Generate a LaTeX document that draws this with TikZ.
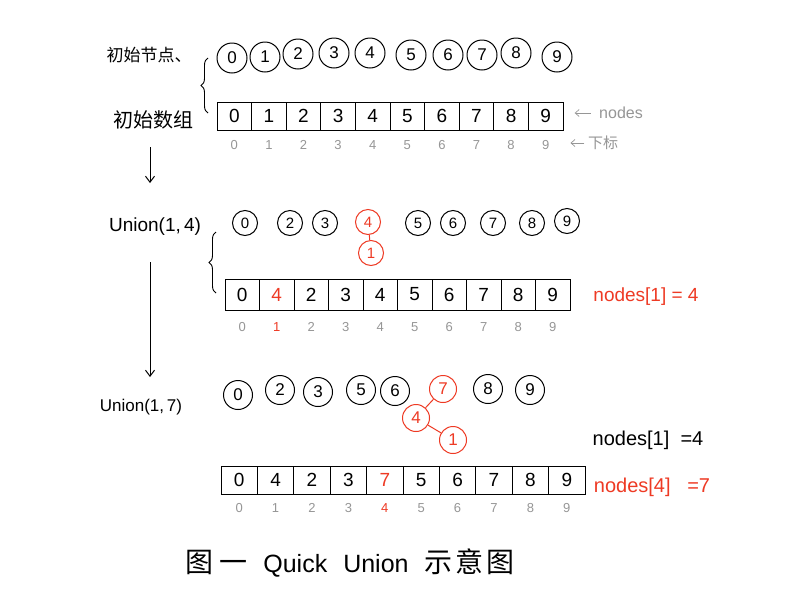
\documentclass[tikz,border=0pt]{standalone}
\usepackage{fontspec}
\setmainfont{Liberation Sans}
\newfontfamily\cjk{Noto Sans CJK SC}
\usetikzlibrary{arrows.meta,decorations.pathreplacing}
\definecolor{inkred}{RGB}{238,58,36}
\definecolor{inkgray}{RGB}{150,150,150}
\tikzset{
  ball/.style={draw, circle, line width=1pt, inner sep=0pt, font=\fontsize{17}{17}\selectfont},
  cell/.style={draw, line width=0.9pt, inner sep=0pt, font=\fontsize{19}{19}\selectfont},
  idx/.style={text=inkgray, font=\fontsize{13}{13}\selectfont},
  note/.style={font=\fontsize{18}{18}\selectfont},
  flow/.style={line width=1pt, -{Straight Barb[length=6pt,width=9pt]}},
  curly/.style={line width=0.9pt, decorate, decoration={brace, amplitude=7pt}}
}
\begin{document}
\begin{tikzpicture}[x=1pt,y=-1pt]
\useasboundingbox[fill=white] (0,0) rectangle (800,600);

%%%%% step 0: initial nodes and array %%%%%
\node[note] (lbl0) at (149,55) {\cjk\fontsize{17}{17}\selectfont 初始节点、};
\node[note] (lbl1) at (153,120) {\cjk\fontsize{20}{20}\selectfont 初始数组};
\foreach \v/\x/\y in {0/232/58, 1/265/57, 2/298/54, 3/334/53, 4/370/53, 5/411/55, 6/448/55, 7/482/55, 8/516/53, 9/557/57}
  \node[ball, minimum size=30pt] (p0-\v) at (\x,\y) {\v};
\foreach \v [count=\i from 0] in {0,1,2,3,4,5,6,7,8,9} {
  \node[cell, minimum width=34.6pt, minimum height=28pt] (a0-\i) at ({234.3+34.6*\i},116) {\v};
  \node[idx] (i0-\i) at ({234.3+34.6*\i},145) {\i};
}
\draw[curly] (208,113) -- (208,58);
\node[text=inkgray, font=\fontsize{16}{16}\selectfont] (nodes0) at (621,113) {nodes};
\node[text=inkgray, font=\cjk\fontsize{15}{15}\selectfont] (sub0) at (603,143) {下标};
\draw[inkgray, line width=0.7pt, -{Straight Barb[length=4pt,width=7pt]}] ([xshift=-5pt]nodes0.west) -- ++(-16,0);
\draw[inkgray, line width=0.7pt, -{Straight Barb[length=4pt,width=7pt]}] (sub0.west) -- ++(-14,0);

\coordinate (s0) at (150,147);
\coordinate (e0) at (150,183);
\draw[flow] (s0) -- (e0);

%%%%% step 1: union(1,4) %%%%%
\node[note, font=\fontsize{19}{19}\selectfont] (u1) at (155,227) {Union(1,\,4)};
\foreach \v/\x/\y in {0/245/223, 2/290/223, 3/325/223, 5/418/223, 6/453/223, 7/493/223, 8/532/223, 9/567/221}
  \node[ball, minimum size=25pt, font=\fontsize{15}{15}\selectfont] (p1-\v) at (\x,\y) {\v};
\node[ball, inkred, minimum size=25pt, font=\fontsize{15}{15}\selectfont] (p1-4) at (368,222) {4};
\node[ball, inkred, minimum size=25pt, font=\fontsize{15}{15}\selectfont] (p1-1) at (371,253) {1};
\draw[inkred, line width=1pt] (p1-4) -- (p1-1);
\foreach \v/\c/\k [count=\i from 0] in {0/black/inkgray,4/inkred/inkred,2/black/inkgray,3/black/inkgray,4/black/inkgray,5/black/inkgray,6/black/inkgray,7/black/inkgray,8/black/inkgray,9/black/inkgray} {
  \node[cell, minimum width=34.5pt, minimum height=31pt, text=\c] (a1-\i) at ({242.25+34.5*\i},294.5) {\v};
  \node[idx, text=\k] (i1-\i) at ({242.25+34.5*\i},327) {\i};
}
\draw[curly] (216,293) -- (216,232);
\node[note, text=inkred, font=\fontsize{19}{19}\selectfont] (r1) at (646,297) {nodes[1] = 4};

\coordinate (s1) at (150,262);
\coordinate (e1) at (150,377);
\draw[flow] (s1) -- (e1);

%%%%% step 2: union(1,7) %%%%%
\node[note, font=\fontsize{17}{17}\selectfont] (u2) at (141,407) {Union(1,\,7)};
\foreach \v/\x/\y in {0/238/395, 2/280/390, 3/318/392, 5/361/390, 6/395/391, 8/488/389, 9/530/390}
  \node[ball, minimum size=29pt] (p2-\v) at (\x,\y) {\v};
\node[ball, inkred, minimum size=27pt] (p2-7) at (443,389) {7};
\node[ball, inkred, minimum size=27pt] (p2-4) at (416,418) {4};
\node[ball, inkred, minimum size=27pt] (p2-1) at (453,440) {1};
\draw[inkred, line width=1pt] (p2-7) -- (p2-4);
\draw[inkred, line width=1pt] (p2-4) -- (p2-1);
\foreach \v/\c/\k [count=\i from 0] in {0/black/inkgray,4/black/inkgray,2/black/inkgray,3/black/inkgray,7/inkred/inkred,5/black/inkgray,6/black/inkgray,7/black/inkgray,8/black/inkgray,9/black/inkgray} {
  \node[cell, minimum width=36.4pt, minimum height=28pt, text=\c] (a2-\i) at ({239.2+36.4*\i},480) {\v};
  \node[idx, text=\k] (i2-\i) at ({239.2+36.4*\i},508) {\i};
}
\node[note, font=\fontsize{20}{20}\selectfont] (r2) at (648,440) {nodes[1]\ \ =4};
\node[note, text=inkred, font=\fontsize{20}{20}\selectfont] (r3) at (652,487) {nodes[4]\ \ \ =7};

%%%%% caption %%%%%
\node[font=\fontsize{25}{25}\selectfont] (cap) at (350,563) {{\cjk\fontsize{28}{28}\selectfont 图\hspace{6pt}一}\hspace{16pt}Quick\hspace{16pt}Union\hspace{16pt}{\cjk\fontsize{28}{28}\selectfont 示\hspace{3pt}意\hspace{3pt}图}};
\end{tikzpicture}
\end{document}
